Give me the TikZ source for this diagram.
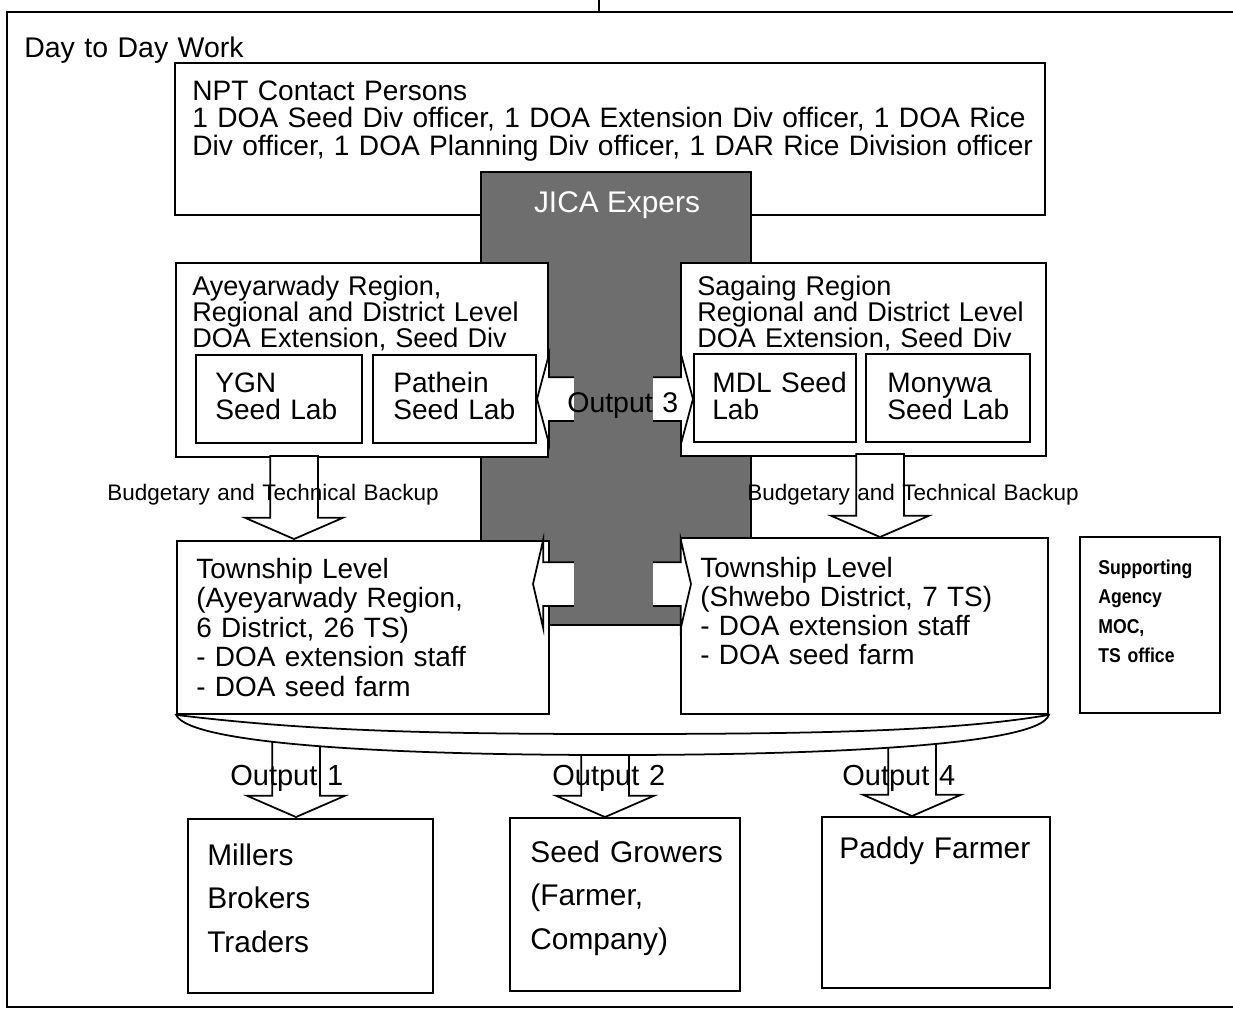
\documentclass[tikz,border=0pt]{standalone}
\usepackage{fontspec}
\setmainfont{Liberation Sans}
\newfontfamily\narrowsans[FakeStretch=0.88]{Liberation Sans}
\usetikzlibrary{fit, shapes.arrows}

\begin{document}
\begin{tikzpicture}[
    x=0.02cm, y=-0.02cm,
    box/.style={draw, line width=1pt, fill=white, inner sep=0pt},
    txt/.style={inner sep=0pt, anchor=base west, align=left, text width=20cm, execute at begin node={\lineskiplimit=-20pt}, font=\fontsize{16.2}{16.8}\selectfont},
    jicagrey/.style={fill=black!57, inner sep=0pt},
    downarr/.style={single arrow, draw, line width=1pt, fill=white, inner sep=0.46cm, shape border rotate=270, minimum width=1.92cm, single arrow head extend=0.5cm, single arrow tip angle=133, anchor=tip},
    twoway/.style={double arrow, draw, line width=1pt, fill=white, inner sep=0.42cm, minimum width=1.76cm, double arrow head extend=0.46cm, double arrow tip angle=150}
  ]
  \useasboundingbox (0,0) rectangle (1233,1008);

  \node[draw, line width=1.2pt, inner sep=0pt, fit={(7,12) (1260,1007)}] (frame) {};
  \coordinate (above) at (599,0);
  \draw[line width=1pt] (above) -- (above |- frame.north);
  \node[txt] (day) at (24,57) {Day to Day Work};

  \node[box, fit={(175,63) (1045,215)}] (npt) {};
  \node[txt, font=\fontsize{16}{15.9}\selectfont] (npttxt) at (192,100) {NPT Contact Persons\\1 DOA Seed Div officer, 1 DOA Extension Div officer, 1 DOA Rice\\Div officer, 1 DOA Planning Div officer, 1 DAR Rice Division officer};

  \node[jicagrey, draw, line width=0.8pt, fit={(481,172) (751,625)}] (jica) {};
  \node[inner sep=0pt, anchor=base, text=white, font=\fontsize{17}{18}\selectfont] (jicatxt) at (617,212) {JICA Expers};

  \node[box, fit={(176,263) (548,457)}] (ayeya) {};
  \node[txt, font=\fontsize{15.4}{14.8}\selectfont] (ayeyatxt) at (192,295) {Ayeyarwady Region,\\Regional and District Level\\DOA Extension, Seed Div};
  \node[box, fit={(196,355) (362,443)}] (ygn) {};
  \node[txt, font=\fontsize{16}{15.4}\selectfont] (ygntxt) at (215,392) {YGN\\Seed Lab};
  \node[box, fit={(373,355) (536,443)}] (pathein) {};
  \node[txt, font=\fontsize{16}{15.4}\selectfont] (patheintxt) at (393,392) {Pathein\\Seed Lab};

  \node[box, fit={(681,263) (1046,456)}] (sagaing) {};
  \node[txt, font=\fontsize{15.4}{14.8}\selectfont] (sagaingtxt) at (697,295) {Sagaing Region\\Regional and District Level\\DOA Extension, Seed Div};
  \node[box, fit={(694,354) (856,442)}] (mdl) {};
  \node[txt, font=\fontsize{16}{15.4}\selectfont] (mdltxt) at (712,392) {MDL Seed\\Lab};
  \node[box, fit={(866,354) (1030,442)}] (monywa) {};
  \node[txt, font=\fontsize{16}{15.4}\selectfont] (monywatxt) at (887,392) {Monywa\\Seed Lab};

  \node[box, fit={(177,541) (549,714)}] (tsl) {};
  \node[txt, font=\fontsize{15.9}{16.8}\selectfont] (tsltxt) at (196,578) {Township Level\\(Ayeyarwady Region,\\6 District, 26 TS)\\- DOA extension staff\\- DOA seed farm};
  \node[box, fit={(681,538) (1048,714)}] (tsr) {};
  \node[txt, font=\fontsize{15.9}{16.6}\selectfont] (tsrtxt) at (700,577) {Township Level\\(Shwebo District, 7 TS)\\- DOA extension staff\\- DOA seed farm};

  \node[twoway, minimum height=3.12cm] (out3arr) at (615,399) {};
  \node[twoway, minimum height=3.16cm, minimum width=1.72cm, double arrow head extend=0.44cm, double arrow tip angle=154] (tsarr) at (612,584) {};
  \node[jicagrey, fit={(574,262) (653,622)}] (jicabar) {};
  \node[txt] (out3txt) at (567,412) {Output 3};

  \node[downarr, minimum height=1.66cm] (budl) at (294,540) {};
  \node[downarr, minimum height=1.66cm] (budr) at (880,538) {};
  \node[txt, font=\fontsize{12.8}{14}\selectfont] (budltxt) at (107,500) {Budgetary and Technical Backup};
  \node[txt, font=\fontsize{12.8}{14}\selectfont] (budrtxt) at (747,500) {Budgetary and Technical Backup};

  \node[box, fit={(1080,537) (1220,713)}] (support) {};
  \node[txt, font=\narrowsans\bfseries\fontsize{11.4}{16.8}\selectfont] (supporttxt) at (1098,574) {Supporting\\Agency\\MOC,\\TS office};

  \node[downarr, minimum height=1.7cm] (out1) at (296,818) {};
  \node[downarr, minimum height=1.48cm] (out2) at (605,818) {};
  \node[downarr, minimum height=1.6cm] (out4) at (912,817) {};
  \draw[line width=1pt, fill=white] (tsl.south west) .. controls (190,745) and (400,755) .. (612,755)
    .. controls (830,755) and (1040,745) .. (tsr.south east)
    .. controls (950,732) and (800,734) .. (612,734)
    .. controls (420,734) and (300,730) .. cycle;
  \node[txt, font=\fontsize{16.5}{17}\selectfont] (out1txt) at (230,785) {Output 1};
  \node[txt, font=\fontsize{16.5}{17}\selectfont] (out2txt) at (552,785) {Output 2};
  \node[txt, font=\fontsize{16.5}{17}\selectfont] (out4txt) at (842,785) {Output 4};

  \node[box, fit={(188,819) (433,993)}] (millers) {};
  \node[txt, font=\fontsize{17}{25}\selectfont] (millerstxt) at (207,865) {Millers\\Brokers\\Traders};
  \node[box, fit={(510,818) (740,991)}] (growers) {};
  \node[txt, font=\fontsize{17}{25}\selectfont] (growerstxt) at (530,862) {Seed Growers\\(Farmer,\\Company)};
  \node[box, fit={(822,817) (1050,988)}] (paddy) {};
  \node[txt, font=\fontsize{17}{25}\selectfont] (paddytxt) at (839,858) {Paddy Farmer};

\end{tikzpicture}
\end{document}
